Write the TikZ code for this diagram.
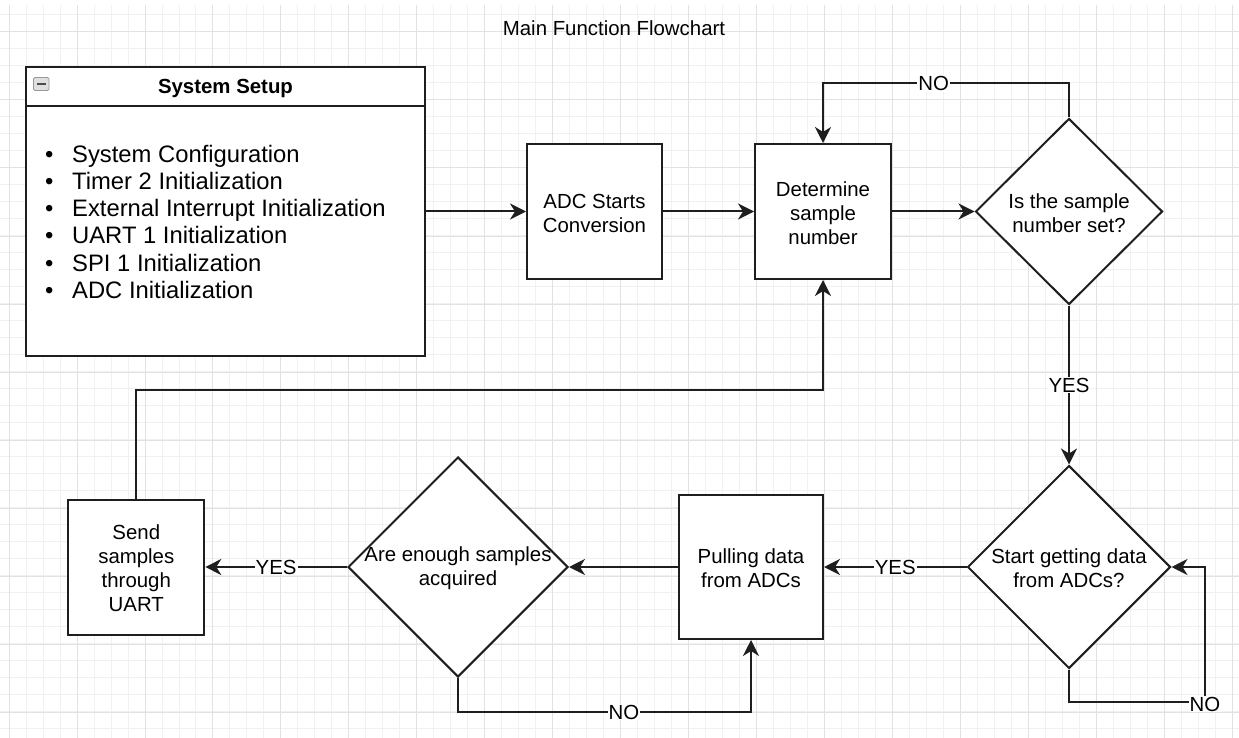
\documentclass[tikz,border=0pt]{standalone}
\usepackage{fontspec}
\setmainfont{Liberation Sans}
\usetikzlibrary{shapes.geometric,arrows.meta,calc}
\definecolor{linec}{HTML}{1E1E1E}
\definecolor{gmajor}{HTML}{E2E2E2}
\definecolor{gminor}{HTML}{F1F1F1}
\begin{document}
\begin{tikzpicture}[x=1pt,y=-1pt,
  fnt/.style={font=\fontsize{20.4}{24}\selectfont},
  proc/.style={draw=linec, line width=2pt, fill=white, rectangle, inner sep=0pt, align=center, fnt},
  dec/.style={draw=linec, line width=2pt, fill=white, diamond, inner sep=0pt},
  txt/.style={align=center, inner sep=0pt, fnt},
  conn/.style={line width=2pt, draw=linec, -{Stealth[length=16pt,width=16pt,inset=5pt]}},
  lbl/.style={fill=white, inner sep=1pt, fnt},
  listitem/.style={anchor=base west, inner sep=0pt, font=\fontsize{23.8}{27}\selectfont},
  gridminor/.style={draw=gminor, line width=1pt},
  gridmajor/.style={draw=gmajor, line width=1pt}]
\useasboundingbox (0,0) rectangle (1239,738);
\fill[white] (0,0) rectangle (1239,738);
% grid
\foreach \i in {0,...,72} \draw[gridminor] ({9.1+16.99*\i},5) -- ({9.1+16.99*\i},738);
\foreach \i in {0,...,43} \draw[gridminor] (0,{14.99+16.99*\i}) -- (1239,{14.99+16.99*\i});
\foreach \i in {0,...,18} \draw[gridmajor] ({9.1+67.96*\i},5) -- ({9.1+67.96*\i},738);
\foreach \i in {0,...,10} \draw[gridmajor] (0,{32+68*\i}) -- (1239,{32+68*\i});

% title
\node[txt] (title) at (614,28) {Main Function Flowchart};

% system setup container
\node[proc, minimum width=399pt, minimum height=288pt] (setup) at (225.5,211.5) {};
\draw[linec, line width=2pt] ($(setup.north west)+(0,40)$) -- ($(setup.north east)+(0,40)$);
\node[txt, font=\bfseries\fontsize{20.4}{24}\selectfont] (setuphead) at (225.5,88.5) {System Setup};
\draw[rounded corners=1.5pt, draw=gray!80, fill=gray!25, line width=0.8pt] (33.5,77.5) rectangle (49,90.5);
\draw[draw=black!70, line width=1.6pt] (36.5,84) -- (46,84);
\foreach \t [count=\k] in {System Configuration, Timer 2 Initialization, External Interrupt Initialization, UART 1 Initialization, SPI 1 Initialization, ADC Initialization}
  \node[listitem] (item\k) at (45,{162.8+27.05*(\k-1)}) {\makebox[27pt][l]{•}\t};

% process boxes
\node[proc, minimum width=135pt, minimum height=135pt] (adc) at (594.5,211.5) {};
\node[txt] (adct) at (594.5,213.5) {ADC Starts\\Conversion};
\node[proc, minimum width=136pt, minimum height=135pt] (det) at (823,211.5) {};
\node[txt] (dett) at (823,213.5) {Determine\\sample\\number};
\node[proc, minimum width=144pt, minimum height=144pt] (pull) at (751,567) {};
\node[txt] (pullt) at (751,568.5) {Pulling data\\from ADCs};
\node[proc, minimum width=136pt, minimum height=135pt] (send) at (136.3,567) {};
\node[txt] (sendt) at (136.3,568.5) {Send\\samples\\through\\UART};

% decisions
\node[dec, minimum width=187pt, minimum height=186pt] (q1) at (1069,211.5) {};
\node[txt] (q1t) at (1069,213.5) {Is the sample\\number set?};
\node[dec, minimum width=203pt, minimum height=203pt] (q2) at (1069,567) {};
\node[txt] (q2t) at (1069,568.5) {Start getting data\\from ADCs?};
\node[dec, minimum width=220pt, minimum height=220pt] (q3) at (458,567) {};
\node[txt] (q3t) at (458,568.5) {Are enough samples\\acquired};

% connectors
\coordinate (c2) at (1205,702);
\draw[conn] (setup.east) -- (adc.west);
\draw[conn] (adc.east) -- (det.west);
\draw[conn] (det.east) -- (q1.west);
\draw[conn] (q1.north) -- ++(0,-34) -| node[lbl, pos=0.275] {NO} (det.north);
\draw[conn] (q1.south) -- node[lbl, pos=0.5] {YES} (q2.north);
\draw[conn] (q2.south) |- (c2) |- (q2.east);
\node[lbl] (nolbl2) at (1205,704) {NO};
\draw[conn] (q2.west) -- node[lbl, pos=0.5] {YES} (pull.east);
\draw[conn] (pull.west) -- (q3.east);
\draw[conn] (q3.west) -- node[lbl, pos=0.5] {YES} (send.east);
\draw[conn] (q3.south) -- ++(0,34) -| node[lbl, pos=0.283] {NO} (pull.south);
\draw[conn] (send.north) -- ++(0,-109) -| (det.south);
\end{tikzpicture}
\end{document}
